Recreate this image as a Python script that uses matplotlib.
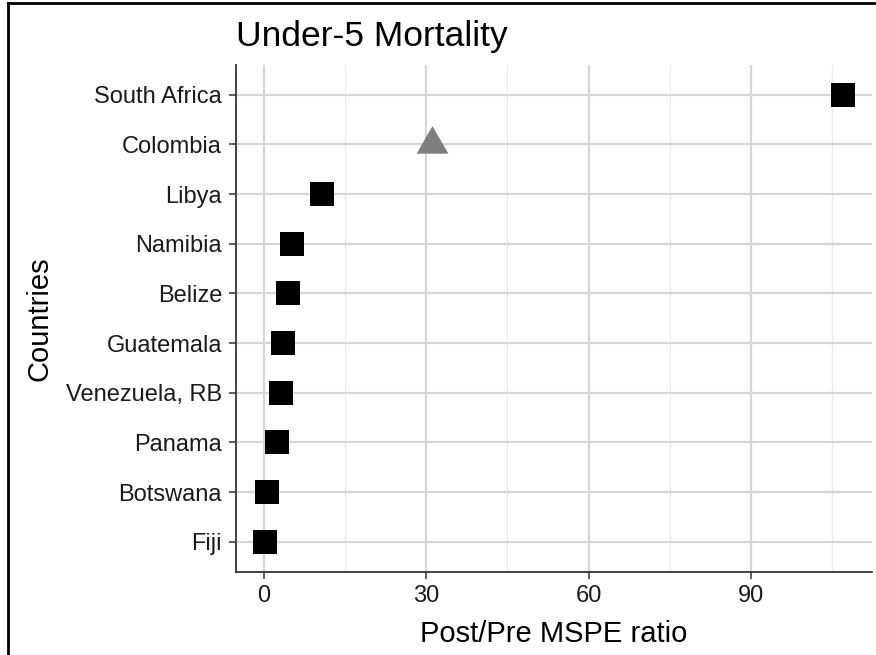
import matplotlib.pyplot as plt
from matplotlib.lines import Line2D
from matplotlib.ticker import MultipleLocator

plt.rcParams['font.family'] = ['Liberation Sans', 'DejaVu Sans']

# Data (bottom to top)
countries = ["Fiji", "Botswana", "Panama", "Venezuela, RB", "Guatemala",
             "Belize", "Namibia", "Libya", "Colombia", "South Africa"]
ratio = [0.25, 0.7, 2.5, 3.3, 3.6, 4.5, 5.3, 10.7, 31.1, 107.0]
treated = "Colombia"

fig = plt.figure(figsize=(8.76, 6.55), dpi=100)
ax = fig.add_axes([236 / 876, 1 - 571.5 / 655, (872 - 236) / 876, (571.5 - 65) / 655])

ypos = list(range(len(countries)))
sq_x = [r for c, r in zip(countries, ratio) if c != treated]
sq_y = [y for c, y in zip(countries, ypos) if c != treated]
tr_x = [r for c, r in zip(countries, ratio) if c == treated]
tr_y = [y for c, y in zip(countries, ypos) if c == treated]

tri = [(-1, -0.577), (1, -0.577), (0, 1.155)]
ax.plot(sq_x, sq_y, 's', color='black', markersize=17.8, markeredgewidth=0, zorder=3)
ax.plot(tr_x, tr_y, marker=tri, linestyle='none', color='#7f7f7f',
        markersize=26.5, markeredgewidth=0, zorder=3)

# ggplot-style expansion
rng = max(ratio) - min(ratio)
ax.set_xlim(min(ratio) - 0.05 * rng, max(ratio) + 0.05 * rng)
ax.set_ylim(-0.6, len(countries) - 1 + 0.6)

ax.set_yticks(ypos)
ax.set_yticklabels(countries)
ax.xaxis.set_major_locator(MultipleLocator(30))
ax.xaxis.set_minor_locator(MultipleLocator(15))

ax.grid(True, which='major', color='#d6d6d6', linewidth=1.6)
ax.grid(True, which='minor', axis='x', color='#ececec', linewidth=0.9)
ax.set_axisbelow(True)

for s in ['top', 'right']:
    ax.spines[s].set_visible(False)
for s in ['left', 'bottom']:
    ax.spines[s].set_color('#333333')
    ax.spines[s].set_linewidth(1.3)

ax.tick_params(which='major', length=5, width=1.1, color='#333333',
               labelsize=17, labelcolor='#1a1a1a', pad=5)
ax.tick_params(which='minor', length=0)

ax.set_xlabel('Post/Pre MSPE ratio', fontsize=21, color='black', labelpad=9)
ax.set_ylabel('Countries', fontsize=21, color='black', labelpad=9)

fig.text(236 / 876, 1 - 46 / 655, 'Under-5 Mortality', fontsize=25.5,
         ha='left', va='baseline')

# partial frame around the image (top and left only)
fig.add_artist(Line2D([8 / 876, 1], [1 - 3 / 655, 1 - 3 / 655],
                      transform=fig.transFigure, color='black', linewidth=2))
fig.add_artist(Line2D([8 / 876, 8 / 876], [0, 1 - 3 / 655],
                      transform=fig.transFigure, color='black', linewidth=2))

fig.savefig('out.png', dpi=100)
